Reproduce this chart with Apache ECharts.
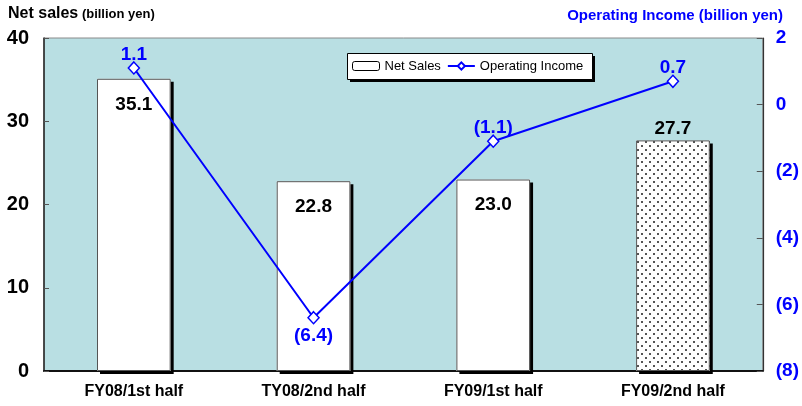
<!DOCTYPE html>
<html>
<head>
<meta charset="utf-8">
<script src="https://cdn.jsdelivr.net/npm/echarts@6/dist/echarts.min.js"></script>
<style>
  html, body { margin: 0; padding: 0; background: #fff; }
  #chart { width: 802px; height: 406px; }
</style>
</head>
<body>
<div id="chart"></div>
<script>
// Half-year results: net sales (bars, left axis) and operating income (line, right axis)
const categories = ['FY08/1st half', 'TY08/2nd half', 'FY09/1st half', 'FY09/2nd half'];
const netSales = [35.1, 22.8, 23.0, 27.7];
const operatingIncome = [1.1, -6.4, -1.1, 0.7];
const salesTicks = { min: 0, max: 40, interval: 10 };
const incomeTicks = { min: -8, max: 2, interval: 2 };

const SANS = '"Liberation Sans", Arial, sans-serif';
const BLUE = '#0000FF';

// Dotted fill used for the latest half-year bar
function dotPattern() {
  const c = document.createElement('canvas');
  c.width = 8; c.height = 8;
  const g = c.getContext('2d');
  g.fillStyle = '#ffffff';
  g.fillRect(0, 0, 8, 8);
  g.fillStyle = '#555555';
  g.fillRect(1, 1, 2, 2);
  g.fillRect(5, 5, 2, 2);
  return c;
}

const fmtParen = v => (v < 0 ? '(' + Math.abs(v) + ')' : String(v));
const fmtParen1 = v => (v < 0 ? '(' + Math.abs(v).toFixed(1) + ')' : v.toFixed(1));

const lastIdx = netSales.length - 1;
const barData = netSales.map((v, i) => ({
  value: v,
  itemStyle: i === lastIdx ? { color: { image: dotPattern(), repeat: 'repeat' } } : undefined,
  label: i === lastIdx ? { position: 'top', distance: 2 } : undefined
}));

// Legend frame (drop shadow + white box)
const LG = { x: 347, y: 53, w: 245, h: 26 };

const chart = echarts.init(document.getElementById('chart'), null, { renderer: 'canvas' });

chart.setOption({
  animation: false,
  backgroundColor: '#ffffff',
  grid: {
    left: 44, right: 39, top: 38, bottom: 35,
    show: true,
    backgroundColor: '#B9DFE3',
    borderColor: '#8a8a8a',
    borderWidth: 1
  },
  graphic: [
    {
      type: 'text', left: 8, top: 6,
      style: {
        text: '{a|Net sales}{b| (billion yen)}',
        rich: {
          a: { fontFamily: SANS, fontWeight: 'bold', fontSize: 16, fill: '#000' },
          b: { fontFamily: SANS, fontWeight: 'bold', fontSize: 13, fill: '#000' }
        }
      }
    },
    {
      type: 'text', right: 19, top: 8,
      style: {
        text: 'Operating Income (billion yen)',
        fontFamily: SANS, fontWeight: 'bold', fontSize: 15, fill: BLUE
      }
    },
    {
      type: 'rect', z: 10,
      shape: { x: LG.x + 3, y: LG.y + 3, width: LG.w, height: LG.h },
      style: { fill: '#000' }
    },
    {
      type: 'rect', z: 11,
      shape: { x: LG.x + 0.5, y: LG.y + 0.5, width: LG.w, height: LG.h },
      style: { fill: '#fff', stroke: '#000', lineWidth: 1 }
    }
  ],
  legend: {
    left: LG.x + 5, top: LG.y + 5,
    z: 12,
    padding: 0,
    itemGap: 6,
    itemWidth: 27,
    itemHeight: 9,
    textStyle: { fontFamily: SANS, fontSize: 13, color: '#000', lineHeight: 16 },
    data: [
      {
        name: 'Net Sales',
        itemStyle: { color: '#ffffff', borderColor: '#000', borderWidth: 1, shadowColor: 'rgba(0,0,0,0)', shadowOffsetX: 0, shadowOffsetY: 0 }
      },
      { name: 'Operating Income' }
    ]
  },
  xAxis: {
    type: 'category',
    data: categories,
    axisLine: { lineStyle: { color: '#111', width: 2 } },
    axisTick: { inside: true, length: 5, lineStyle: { color: '#333' } },
    axisLabel: {
      fontFamily: SANS, fontWeight: 'bold', fontSize: 16, color: '#000', margin: 13
    }
  },
  yAxis: [
    {
      type: 'value',
      min: salesTicks.min, max: salesTicks.max, interval: salesTicks.interval,
      position: 'left',
      splitLine: { show: false },
      axisLine: { show: true, lineStyle: { color: '#222', width: 1.5 } },
      axisTick: { show: true, inside: true, length: 5, lineStyle: { color: '#555' } },
      axisLabel: {
        fontFamily: SANS, fontWeight: 'bold', fontSize: 20, color: '#000', margin: 15
      }
    },
    {
      type: 'value',
      min: incomeTicks.min, max: incomeTicks.max, interval: incomeTicks.interval,
      position: 'right',
      splitLine: { show: false },
      axisLine: { show: true, lineStyle: { color: '#333', width: 1.2 } },
      axisTick: { show: true, inside: true, length: 6, lineStyle: { color: '#555' } },
      axisLabel: {
        fontFamily: SANS, fontWeight: 'bold', fontSize: 19, color: BLUE, margin: 13,
        formatter: fmtParen
      }
    }
  ],
  series: [
    {
      // filled bars with hard drop shadow
      name: 'Net Sales',
      type: 'bar',
      yAxisIndex: 0,
      data: barData,
      barWidth: '41%',
      itemStyle: {
        color: '#ffffff', borderWidth: 0,
        shadowColor: '#000', shadowBlur: 0, shadowOffsetX: 3, shadowOffsetY: 3
      },
      label: {
        show: true,
        position: 'insideTop',
        distance: 16,
        fontFamily: SANS, fontWeight: 'bold', fontSize: 19, color: '#000',
        formatter: p => p.value.toFixed(1)
      },
      z: 2
    },
    {
      // thin outline drawn over the same bars
      name: 'Net Sales outline',
      type: 'bar',
      yAxisIndex: 0,
      data: netSales,
      barWidth: '41%',
      barGap: '-100%',
      itemStyle: { color: 'rgba(0,0,0,0)', borderColor: '#555', borderWidth: 1 },
      silent: true,
      z: 3
    },
    {
      name: 'Operating Income',
      type: 'line',
      yAxisIndex: 1,
      data: operatingIncome.map(v => ({
        value: v,
        label: v < -5 ? { position: 'bottom', distance: 2 } : undefined
      })),
      symbol: 'diamond',
      symbolSize: [11, 12],
      lineStyle: { color: BLUE, width: 2 },
      itemStyle: { color: '#ffffff', borderColor: BLUE, borderWidth: 1.5 },
      label: {
        show: true,
        position: 'top',
        distance: -3,
        fontFamily: SANS, fontWeight: 'bold', fontSize: 19, color: BLUE,
        formatter: p => fmtParen1(p.value)
      },
      z: 5
    }
  ]
});
</script>
</body>
</html>
